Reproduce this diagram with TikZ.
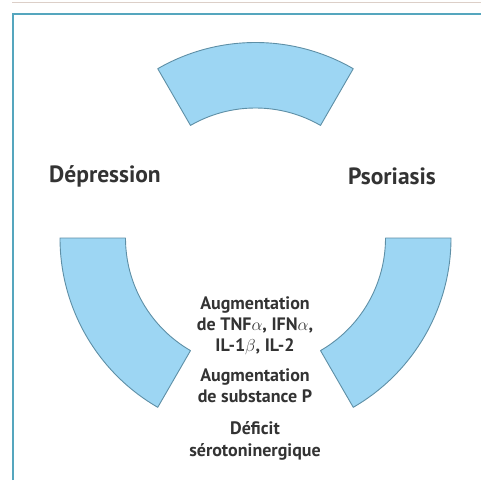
\documentclass[tikz,border=0pt]{standalone}
\usepackage{fontspec}
\setmainfont{PT Sans}
\definecolor{segfill}{HTML}{9DD6F3}
\definecolor{segline}{HTML}{5E8FA6}
\definecolor{framec}{HTML}{55A6BE}
\definecolor{topline}{HTML}{DCCFC8}
\definecolor{txt}{HTML}{333333}
\tikzset{
  seg/.style={fill=segfill, draw=segline, line width=0.9pt, line join=round},
  big/.style={font=\bfseries\fontsize{23.5}{28}\selectfont, text=txt, inner sep=0pt},
  small/.style={font=\bfseries\fontsize{18}{21}\selectfont, text=txt, align=center, inner sep=0pt},
}
\newcommand{\ringseg}[2]{%
  \draw[seg] ([shift={(#1:195.5)}]c) arc[start angle=#1, end angle=#2, radius=195.5]
    -- ([shift={(#2:130)}]c) arc[start angle=#2, end angle=#1, radius=130] -- cycle;}
\begin{document}
\begin{tikzpicture}[x=1pt,y=-1pt]
\useasboundingbox (0,0) rectangle (481,480);
% frame
\draw[topline, line width=1pt] (12,2) -- (481,2);
\draw[framec, line width=2.2pt] (13,480) -- (13,14) -- (481,14);
% ring segments, centre of the ring
\coordinate (c) at (255.5,238);
\ringseg{-60}{-120}
\ringseg{-180}{-240}
\ringseg{-300}{-360}
% labels
\node[big] (dep) at (105,176) {Dépression};
\node[big] (pso) at (392,176) {Psoriasis};
\node[small, anchor=north] (g1) at (255,296) {Augmentation\\de TNF$\alpha$, IFN$\alpha$,\\IL-1$\beta$, IL-2};
\node[small, anchor=north] (g2) at (255,368) {Augmentation\\de substance P};
\node[small, anchor=north, font=\bfseries\fontsize{18}{22}\selectfont] (g3) at (255,421) {Déficit\\sérotoninergique};
\end{tikzpicture}
\end{document}
